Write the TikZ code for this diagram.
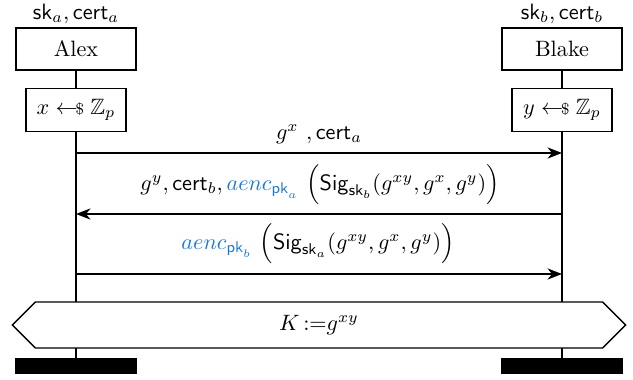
\documentclass[tikz,border=0pt]{standalone}
\usepackage{amsmath,amssymb}
\usepackage{tikz}
\usetikzlibrary{arrows.meta,shapes.symbols}

\definecolor{encblue}{RGB}{28,120,215}
\newcommand{\sampleop}{\mathrel{\mathord{\leftarrow}\mkern-2mu{\scriptstyle\$}}}
\newcommand{\enc}[1]{\textcolor{encblue}{aenc_{\mathsf{pk}_{#1}}}}

\begin{document}
\begin{tikzpicture}[x=0.45pt,y=-0.45pt,
  party/.style={draw,semithick,minimum width=54pt,minimum height=19pt,inner sep=0pt},
  sample/.style={draw,semithick,minimum width=45pt,minimum height=19.5pt,inner sep=0pt},
  life/.style={line width=0.9pt},
  msg/.style={line width=0.9pt,-{Stealth[length=6.5pt,width=5pt,inset=2pt]}},
  endbar/.style={fill=black,minimum width=55pt,minimum height=7.2pt,inner sep=0pt}]
\useasboundingbox (0,0) rectangle (633,379);

% Parties
\node[party] (alex) at (76,49) {Alex};
\node[party] (blake) at (562,49) {Blake};
\node (alexkeys) at (76,14) {$\mathsf{sk}_a, \mathsf{cert}_a$};
\node (blakekeys) at (562,14) {$\mathsf{sk}_b, \mathsf{cert}_b$};

% Random exponents
\node[sample] (xr) at (76,110) {$x \sampleop \mathbb{Z}_p$};
\node[sample] (yr) at (562,110) {$y \sampleop \mathbb{Z}_p$};

% End bars
\node[endbar] (abar) at (76,366) {};
\node[endbar] (bbar) at (562,366) {};

% Lifelines
\draw[life] (alex) -- (xr);
\draw[life] (xr) -- (abar);
\draw[life] (blake) -- (yr);
\draw[life] (yr) -- (bbar);

% Messages
\coordinate (m1a) at (76,153);
\coordinate (m1b) at (562,153);
\coordinate (m2a) at (76,214);
\coordinate (m2b) at (562,214);
\coordinate (m3a) at (76,274);
\coordinate (m3b) at (562,274);
\draw[msg] (m1a) -- (m1b);
\draw[msg] (m2b) -- (m2a);
\draw[msg] (m3a) -- (m3b);
\node (lab1) at (319,134) {$g^{x}\ ,\mathsf{cert}_a$};
\node (lab2) at (320,185) {$g^y, \mathsf{cert}_b, \enc{a}\ \Big(\mathsf{Sig}_{\mathsf{sk}_b}(g^{xy}, g^x, g^y)\Big)$};
\node (lab3) at (318,244) {$\enc{b}\ \Big(\mathsf{Sig}_{\mathsf{sk}_a}(g^{xy}, g^x, g^y)\Big)$};

% Shared key
\node[signal,signal to=west and east,signal pointer angle=90,draw,semithick,fill=white,
  minimum width=276pt,minimum height=20.7pt,inner sep=0pt] (key) at (319,325) {$K \,{:=}g^{xy}$};

\end{tikzpicture}
\end{document}
